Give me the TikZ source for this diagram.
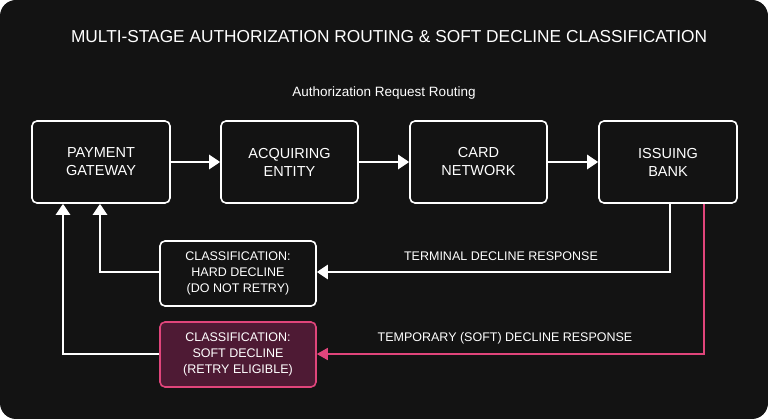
\documentclass[tikz,border=0pt]{standalone}
\usepackage{fontspec}
\setmainfont{Liberation Sans}
\usetikzlibrary{arrows.meta}
\definecolor{bg}{HTML}{131313}
\definecolor{pinkc}{HTML}{E0457B}
\definecolor{softfill}{HTML}{4E1A34}
\begin{document}
\begin{tikzpicture}[x=1pt,y=-1pt,
  box/.style={draw=white,line width=1.6pt,rounded corners=5pt,fill=bg,text=white,align=center,font=\fontsize{14.5}{18}\selectfont,inner sep=0pt},
  small/.style={box,font=\fontsize{12.5}{16}\selectfont},
  arr/.style={draw=white,line width=2.6pt,-{Triangle[length=11pt,width=14pt]}},
  parr/.style={draw=pinkc,line width=1.6pt,-{Triangle[length=11pt,width=12pt]}},
  lbl/.style={text=white,font=\fontsize{12.5}{14}\selectfont}]
\useasboundingbox (0,0) rectangle (768,419);
\fill[bg,rounded corners=16pt] (0,0) rectangle (768,419);
\node[text=white,font=\fontsize{17.3}{20}\selectfont] (title) at (389,37) {MULTI-STAGE AUTHORIZATION ROUTING \& SOFT DECLINE CLASSIFICATION};
\node[text=white,font=\fontsize{13.5}{16}\selectfont] (sub) at (384,93) {Authorization Request Routing};
\node[box,minimum width=138pt,minimum height=82pt] (pg) at (101,162) {PAYMENT\\GATEWAY};
\node[box,minimum width=137pt,minimum height=82pt] (ae) at (289.5,162) {ACQUIRING\\ENTITY};
\node[box,minimum width=137pt,minimum height=82pt] (cn) at (478.5,162) {CARD\\NETWORK};
\node[box,minimum width=138pt,minimum height=82pt] (ib) at (668,162) {ISSUING\\BANK};
\node[small,minimum width=156pt,minimum height=65pt] (hd) at (238,273.5) {CLASSIFICATION:\\HARD DECLINE\\(DO NOT RETRY)};
\node[small,draw=pinkc,fill=softfill,minimum width=156pt,minimum height=65pt] (sd) at (238,354.5) {CLASSIFICATION:\\SOFT DECLINE\\(RETRY ELIGIBLE)};
\draw[arr] (pg) -- (ae);
\draw[arr] (ae) -- (cn);
\draw[arr] (cn) -- (ib);
\coordinate (hdc) at (670,272);
\coordinate (sdc) at (704,354);
\draw[arr] (ib.south -| hdc) -- (hdc) -- (hd.east |- hdc);
\draw[parr] (ib.south -| sdc) -- (sdc) -- (sd.east |- sdc);
\draw[arr] (hd.west |- hdc) -| ([xshift=-1pt]pg.south);
\draw[arr] (sd.west |- sdc) -| ([xshift=-38pt]pg.south);
\node[lbl] (tl) at (501,256) {TERMINAL DECLINE RESPONSE};
\node[lbl] (sl) at (505,338) {TEMPORARY (SOFT) DECLINE RESPONSE};
\end{tikzpicture}
\end{document}
